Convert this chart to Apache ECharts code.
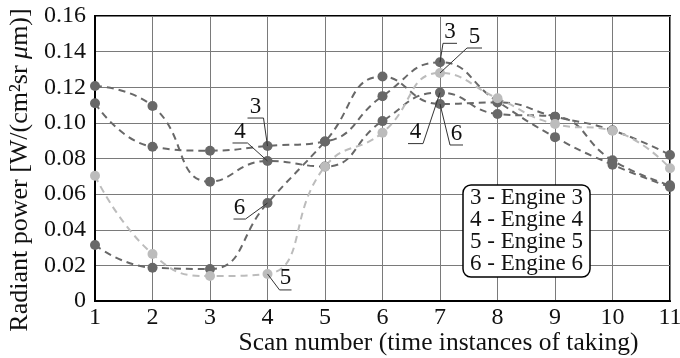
<!DOCTYPE html>
<html>
<head>
<meta charset="utf-8">
<script src="https://cdn.jsdelivr.net/npm/echarts@6/dist/echarts.min.js"></script>
<style>
  html, body { margin: 0; padding: 0; background: #fff; }
  #chart { width: 680px; height: 358px; }
</style>
</head>
<body>
<div id="chart"></div>
<script>
const scans = [1, 2, 3, 4, 5, 6, 7, 8, 9, 10, 11]
const yTicks = [0, 0.02, 0.04, 0.06, 0.08, 0.1, 0.12, 0.14, 0.16]

const engine3 = [0.111, 0.0866, 0.0844, 0.087, 0.0895, 0.115, 0.134, 0.112, 0.092, 0.0765, 0.064]
const engine4 = [0.1207, 0.1095, 0.067, 0.0786, 0.0755, 0.101, 0.117, 0.105, 0.1035, 0.079, 0.065]
const engine5 = [0.0703, 0.0264, 0.014, 0.0152, 0.0754, 0.0945, 0.128, 0.1138, 0.0994, 0.0956, 0.0745]
const engine6 = [0.0314, 0.0187, 0.018, 0.055, 0.0895, 0.126, 0.1106, 0.1115, 0.1035, 0.0958, 0.082]

const legendLines = ['3 - Engine 3', '4 - Engine 4', '5 - Engine 5', '6 - Engine 6']

// callouts: [series, scan, knee dx, knee dy, underline length (negative = to the left)]
const callouts = [
  ['3', 4, -4, -28, -16],
  ['4', 4, -20, -18, -15],
  ['6', 4, -22, 16, -12],
  ['5', 4, 12, 16, 12],
  ['3', 7, 3, -19, 14],
  ['5', 7, 27, -25, 15],
  ['4', 7, -17, 51, -15],
  ['6', 7, 10, 41, 13]
]

const FONT = '"Liberation Serif", "Times New Roman", serif'
const DARK = '#686868'
const LIGHT = '#bcbcbc'

const seriesValues = { '3': engine3, '4': engine4, '5': engine5, '6': engine6 }

const makeSeries = (name, values, color) => ({
  name: name,
  type: 'line',
  smooth: 0.5,
  symbol: 'circle',
  symbolSize: 10,
  data: scans.map((s, i) => [s, values[i]]),
  itemStyle: { color: color },
  lineStyle: { color: color, width: 2, type: [7, 5] },
  emphasis: { disabled: true },
  z: 3
})

const chart = echarts.init(document.getElementById('chart'))

chart.setOption({
  animation: false,
  backgroundColor: '#fff',
  grid: {
    left: 95, right: 10, top: 16, bottom: 57,
    outerBoundsMode: 'none',
    containLabel: false,
    show: true, borderColor: '#000', borderWidth: 2
  },
  title: {
    text: legendLines.join('\n'),
    left: 463, top: 185,
    padding: [2, 7, 2, 7],
    backgroundColor: '#fff',
    borderColor: '#000',
    borderWidth: 1.5,
    borderRadius: 8,
    textStyle: { fontFamily: FONT, fontSize: 23, fontWeight: 'normal', color: '#111', lineHeight: 22 }
  },
  xAxis: {
    type: 'value',
    min: 1, max: 11, interval: 1,
    name: 'Scan number (time instances of taking)',
    nameLocation: 'middle',
    nameGap: 29,
    nameMoveOverlap: false,
    nameTextStyle: { fontFamily: FONT, fontSize: 25.5, color: '#111', padding: [0, 0, 0, 112] },
    axisLine: { lineStyle: { color: '#000', width: 2 } },
    axisTick: { show: false },
    axisLabel: { fontFamily: FONT, fontSize: 24, color: '#111', margin: 5 },
    splitLine: { lineStyle: { color: '#7a7a7a', width: 1 } }
  },
  yAxis: {
    type: 'value',
    min: yTicks[0], max: yTicks[yTicks.length - 1], interval: 0.02,
    name: '{t|Radiant power [W/(cm²sr }{i|μ}{t|m)]}',
    nameLocation: 'middle',
    nameGap: 62,
    nameMoveOverlap: false,
    nameTextStyle: {
      padding: [0, 23, 0, 0],
      rich: {
        t: { fontFamily: FONT, fontSize: 26, color: '#111' },
        i: { fontFamily: FONT, fontSize: 26, color: '#111', fontStyle: 'italic' }
      }
    },
    axisLine: { show: true, lineStyle: { color: '#000', width: 2 } },
    axisTick: { show: false },
    axisLabel: {
      fontFamily: FONT, fontSize: 24, color: '#111', margin: 9,
      formatter: v => (v === 0 ? '0' : v.toFixed(2))
    },
    splitLine: { lineStyle: { color: '#7a7a7a', width: 1 } }
  },
  series: [
    makeSeries('3', engine3, DARK),
    makeSeries('4', engine4, DARK),
    makeSeries('6', engine6, DARK),
    makeSeries('5', engine5, LIGHT)
  ]
})

const calloutGraphics = []
callouts.forEach(([name, scan, dx, dy, len]) => {
  const value = seriesValues[name][scans.indexOf(scan)]
  const [px, py] = chart.convertToPixel({ gridIndex: 0 }, [scan, value])
  const kx = px + dx
  const ky = py + dy
  calloutGraphics.push({
    type: 'polyline',
    shape: { points: [[px, py], [kx, ky], [kx + len, ky]] },
    style: { stroke: '#333', lineWidth: 1, fill: null },
    z: 10
  })
  calloutGraphics.push({
    type: 'text',
    x: kx + len / 2,
    y: ky,
    style: {
      text: name, fontFamily: FONT, fontSize: 23, fill: '#111',
      align: 'center', verticalAlign: 'bottom'
    },
    z: 10
  })
})

chart.setOption({ graphic: calloutGraphics })
</script>
</body>
</html>
